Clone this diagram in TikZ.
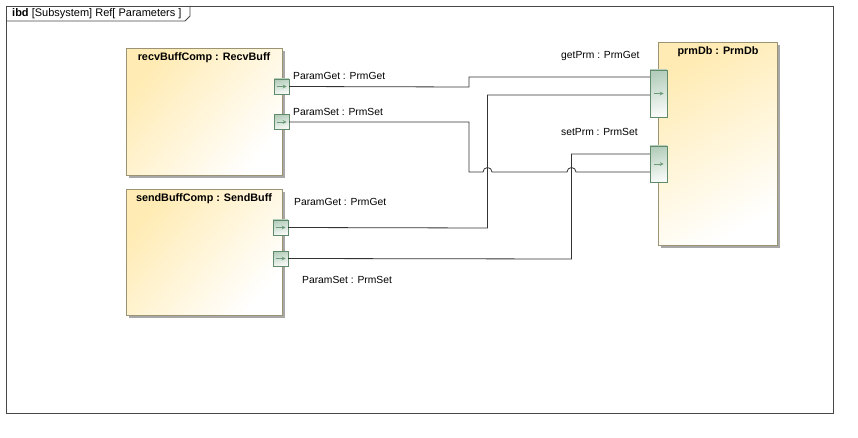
\documentclass[tikz,border=0pt]{standalone}
\usepackage{fontspec}
\setmainfont{Liberation Sans}
\usetikzlibrary{shadows}
\definecolor{boxYellow}{HTML}{FFEBB3}
\definecolor{boxBorder}{HTML}{9A9474}
\definecolor{portGreen}{HTML}{B5CEBC}
\definecolor{portBorder}{HTML}{5F8B6B}
\definecolor{portArrow}{HTML}{6A9A78}
\definecolor{wireGray}{HTML}{333333}
\definecolor{frameGray}{HTML}{474747}
\definecolor{shadowGray}{HTML}{A8A8A8}
\begin{document}
\begin{tikzpicture}[x=1pt,y=-1pt,font=\fontsize{10.3}{12}\selectfont,
 block/.style={draw=boxBorder,thick,top color=boxYellow,bottom color=white,shading angle=50,anchor=north west,inner sep=0,
   drop shadow={shadow xshift=3pt,shadow yshift=-3pt,fill=shadowGray,opacity=1}},
 blocktitle/.style={anchor=base,inner sep=0,font=\fontsize{10.8}{12}\selectfont\bfseries},
 port/.style={draw=portBorder,top color=portGreen,bottom color=white!90!portGreen,shading angle=15,inner sep=0,minimum width=15,minimum height=15},
 lbl/.style={anchor=base west,inner sep=0},
 wire/.style={draw=wireGray,line width=0.8pt},
 frame/.style={draw=frameGray,line width=0.8pt}]
\useasboundingbox (0,0) rectangle (858,438);
% diagram frame
\draw[frame] (6,6) rectangle (833,413);
\draw[frame] (6,21) -- (185,21) -- (190,16) -- (190,6);
\node[lbl,font=\fontsize{11}{12}\selectfont] (frametitle) at (12,17) {\textbf{ibd} [Subsystem] Ref[ Parameters ]};
% parts
\node[block,minimum width=156,minimum height=127] (recv) at (126,48) {};
\node[blocktitle] (recvtitle) at (204,61) {recvBuffComp : RecvBuff};
\node[block,minimum width=156,minimum height=126] (send) at (126,189) {};
\node[blocktitle] (sendtitle) at (204,202) {sendBuffComp : SendBuff};
\node[block,shading angle=30,minimum width=119,minimum height=203] (prmdb) at (658,42) {};
\node[blocktitle] (prmdbtitle) at (718,55) {prmDb : PrmDb};
% ports
\node[port] (recvGet) at (281.5,86.5) {};
\node[port] (recvSet) at (281.5,122) {};
\node[port] (sendGet) at (280.5,227.5) {};
\node[port] (sendSet) at (280.5,258.5) {};
\node[port,minimum width=17,minimum height=47] (getPrm) at (658.5,93.5) {};
\node[port,minimum width=17,minimum height=36] (setPrm) at (658.5,164) {};
\foreach \p in {recvGet,recvSet,sendGet,sendSet,getPrm,setPrm}
  \draw[portArrow,-stealth,line width=0.7pt] ([xshift=-5pt]\p.center) -- ([xshift=5pt]\p.center);
% port labels
\node[lbl] (recvGetlbl) at (293,80) {ParamGet : PrmGet};
\node[lbl] (recvSetlbl) at (293,116) {ParamSet : PrmSet};
\node[lbl] (sendGetlbl) at (294,206) {ParamGet : PrmGet};
\node[lbl] (sendSetlbl) at (302,283) {ParamSet : PrmSet};
\node[lbl] (getPrmlbl) at (561,59) {getPrm : PrmGet};
\node[lbl] (setPrmlbl) at (561,136) {setPrm : PrmSet};
% connectors
\draw[wire] (recvGet.east) -- (469,87) -- (469,77) -- (getPrm.west |- 0,77);
\draw[wire] (recvSet.east) -- (469,122) -- (469,172) -- (483,172) arc[start angle=180,end angle=360,radius=4.5]
  -- (567,172) arc[start angle=180,end angle=360,radius=4.5] -- (setPrm.west |- 0,172);
\draw[wire] (sendGet.east) -- (487.5,228) -- (487.5,95) -- (getPrm.west |- 0,95);
\draw[wire] (sendSet.east) -- (571.5,259) -- (571.5,154) -- (setPrm.west |- 0,154);
\end{tikzpicture}
\end{document}
